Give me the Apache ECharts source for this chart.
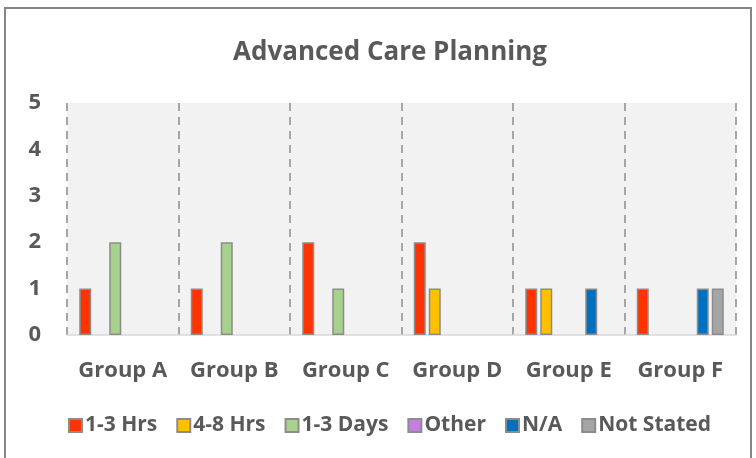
<!DOCTYPE html>
<html>
<head>
<meta charset="utf-8">
<script src="https://cdn.jsdelivr.net/npm/echarts@6/dist/echarts.min.js"></script>
<style>
  html, body { margin: 0; padding: 0; background: #fff; }
  #chart { width: 756px; height: 458px; }
</style>
</head>
<body>
<div id="chart"></div>
<script>
var categories = ['Group A', 'Group B', 'Group C', 'Group D', 'Group E', 'Group F'];
var seriesNames = ['1-3 Hrs', '4-8 Hrs', '1-3 Days', 'Other', 'N/A', 'Not Stated'];
var hrs13 = [1, 1, 2, 2, 1, 1];
var hrs48 = [0, 0, 0, 1, 1, 0];
var days13 = [2, 2, 1, 0, 0, 0];
var other = [0, 0, 0, 0, 0, 0];
var na = [0, 0, 0, 0, 1, 1];
var notStated = [0, 0, 0, 0, 0, 1];
var yTicks = [0, 1, 2, 3, 4, 5];

var colors = ['#ff3300', '#ffc000', '#a9d18e', '#c47fe0', '#0070c0', '#a5a5a5'];
var values = [hrs13, hrs48, days13, other, na, notStated];

var chart = echarts.init(document.getElementById('chart'));

var font = '"Open Sans", sans-serif';

var series = seriesNames.map(function (name, i) {
  return {
    name: name,
    type: 'bar',
    barWidth: 12,
    barGap: '25%',
    itemStyle: {
      color: colors[i],
      borderColor: '#8c8c8c',
      borderWidth: 1.5
    },
    // zero means no bar
    data: values[i].map(function (v) { return v === 0 ? '-' : v; })
  };
});

var option = {
  color: colors,
  title: {
    text: 'Advanced Care Planning',
    left: 228,
    top: 35,
    textStyle: {
      fontFamily: font,
      fontSize: 26,
      fontWeight: 'bold',
      color: '#595959'
    }
  },
  legend: {
    data: seriesNames,
    left: 63,
    top: 410,
    itemWidth: 13,
    itemHeight: 13,
    itemGap: 19,
    icon: 'rect',
    textStyle: {
      fontFamily: font,
      fontSize: 21,
      fontWeight: 'bold',
      color: '#595959',
      padding: [0, 0, 0, -2]
    }
  },
  grid: {
    left: 67,
    right: 20,
    top: 103,
    bottom: 123,
    show: true,
    backgroundColor: '#f2f2f2',
    borderWidth: 0
  },
  graphic: [{
    type: 'rect',
    shape: { x: 5, y: 8, width: 746, height: 470 },
    style: { fill: 'none', stroke: '#868686', lineWidth: 2 },
    silent: true
  }],
  xAxis: {
    type: 'category',
    data: categories,
    axisTick: { show: false },
    axisLine: { lineStyle: { color: '#d9d9d9', width: 1.5 } },
    axisLabel: {
      interval: 0,
      margin: 25,
      fontFamily: font,
      fontSize: 22,
      fontWeight: 'bold',
      color: '#595959'
    },
    splitLine: {
      show: true,
      interval: 0,
      lineStyle: { color: '#a6a6a6', type: [8, 6], width: 2 }
    }
  },
  yAxis: {
    type: 'value',
    min: yTicks[0],
    max: yTicks[yTicks.length - 1],
    interval: 1,
    axisLine: { show: false },
    axisTick: { show: false },
    splitLine: { show: false },
    axisLabel: {
      margin: 26,
      fontFamily: font,
      fontSize: 22,
      fontWeight: 'bold',
      color: '#595959'
    }
  },
  series: series
};

chart.setOption(option);
</script>
</body>
</html>
